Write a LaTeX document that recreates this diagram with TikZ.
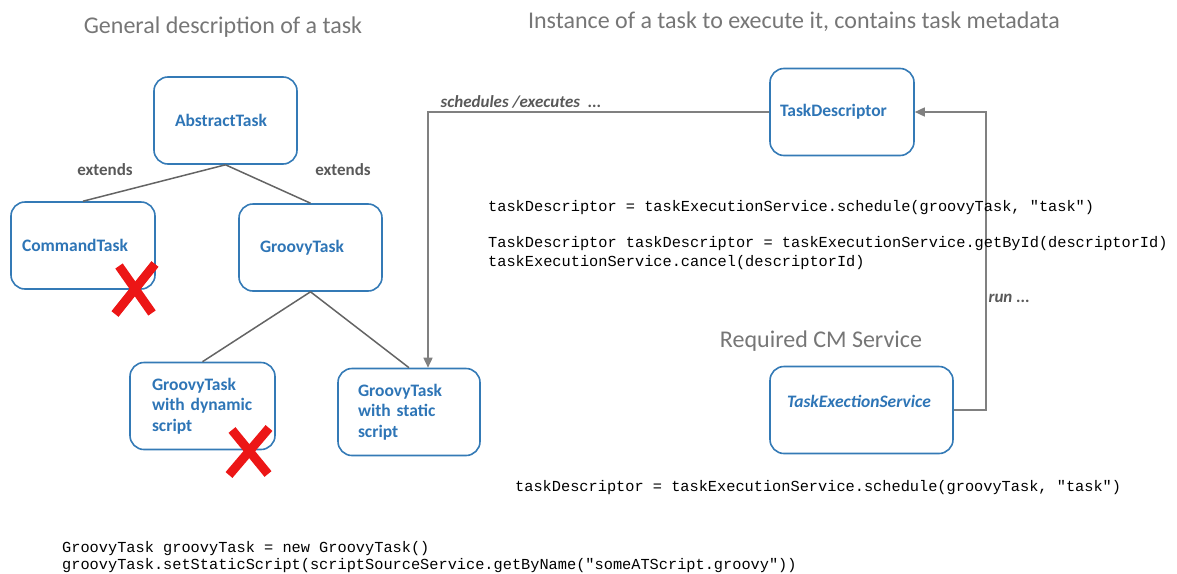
\documentclass[tikz,border=0pt]{standalone}
\usepackage{fontspec}
\setmainfont{Carlito}
\setmonofont{Liberation Mono}
\usetikzlibrary{arrows.meta}

\definecolor{boxblue}{RGB}{52,122,182}
\definecolor{txtblue}{RGB}{46,117,182}
\definecolor{linegray}{RGB}{100,100,100}
\definecolor{arrowgray}{RGB}{128,128,128}
\definecolor{titlegray}{RGB}{118,118,118}
\definecolor{labelgray}{RGB}{89,89,89}
\definecolor{crossred}{RGB}{236,22,22}

\begin{document}
\begin{tikzpicture}[x=1pt,y=-1pt,
  task/.style={draw=boxblue,line width=1.6pt,rounded corners=14pt,text=txtblue,
    font=\fontsize{17.5}{20.5}\selectfont\bfseries,align=left,inner ysep=0pt,minimum height=87pt},
  title/.style={text=titlegray,font=\fontsize{24}{28}\selectfont},
  rel/.style={text=labelgray,font=\fontsize{17}{20}\selectfont\bfseries},
  tree/.style={draw=linegray,line width=1.5pt},
  flow/.style={draw=arrowgray,line width=1.6pt,-{Triangle[length=10pt,width=9pt]}},
  code/.style={font=\fontsize{15.3}{18.3}\selectfont\ttfamily,align=left,inner sep=0pt,anchor=north west},
  cross/.style={draw=crossred,line width=9pt}]
  \useasboundingbox (0,0) rectangle (1177,573);
  % Titles
  \node[title] (general) at (223,27) {General description of a task};
  \node[title] (instance) at (794,22) {Instance of a task to execute it, contains task metadata};
  \node[title] (required) at (821,341) {Required CM Service};
  % Task hierarchy
  \node[task,text width=101pt,inner xsep=21pt] (abstract) at (225.5,120.5) {AbstractTask};
  \node[task,text width=122pt,inner xsep=11pt] (command) at (83,245.5) {CommandTask};
  \node[task,text width=101pt,inner xsep=21pt] (groovy) at (310.5,247.5) {GroovyTask};
  \node[task,text width=101pt,inner xsep=22pt] (dynamic) at (202.5,406) {GroovyTask\\with dynamic\\script};
  \node[task,text width=102pt,inner xsep=20pt] (static) at (409,412) {GroovyTask\\with static\\script};
  \draw[tree] (abstract.south) -- (command.north);
  \draw[tree] (abstract.south) -- (groovy.north);
  \draw[tree] (groovy.south) -- (dynamic.north);
  \draw[tree] (groovy.south) -- (static.north);
  \node[rel] (extendsl) at (105,170) {extends};
  \node[rel] (extendsr) at (343,170) {extends};
  % Not supported
  \draw[cross] (119,266) -- (152,313);
  \draw[cross] (155,264) -- (115,314);
  \draw[cross] (232,430) -- (268,474);
  \draw[cross] (269,428) -- (229,475);
  % Descriptor and service
  \node[task,text width=124pt,inner xsep=10pt] (descriptor) at (842,112) {TaskDescriptor};
  \node[task,text width=149pt,inner xsep=17pt,text depth=17pt,font=\fontsize{17.5}{20.5}\selectfont\bfseries\itshape] (service) at (861.5,410) {TaskExectionService};
  \draw[flow] (descriptor.west) -| ([xshift=19pt]static.north);
  \draw[flow] (service.east) -- ++(32,0) |- (descriptor.east);
  \node[rel,font=\fontsize{17}{20}\selectfont\bfseries\itshape] (schedules) at (521,102) {schedules /executes \ ...};
  \node[rel,font=\fontsize{17}{20}\selectfont\bfseries\itshape,anchor=west] (run) at (985,298) {run ...};
  % Code
  \node[code] (calls) at (488,200) {taskDescriptor = taskExecutionService.schedule(groovyTask, "task")\\[18.3pt]
    TaskDescriptor taskDescriptor = taskExecutionService.getById(descriptorId)\\
    taskExecutionService.cancel(descriptorId)};
  \node[code] (schedule) at (515,480) {taskDescriptor = taskExecutionService.schedule(groovyTask, "task")};
  \node[code,font=\fontsize{15.3}{17}\selectfont\ttfamily] (create) at (62,541) {GroovyTask groovyTask = new GroovyTask()\\
    groovyTask.setStaticScript(scriptSourceService.getByName("someATScript.groovy"))};
\end{tikzpicture}
\end{document}
